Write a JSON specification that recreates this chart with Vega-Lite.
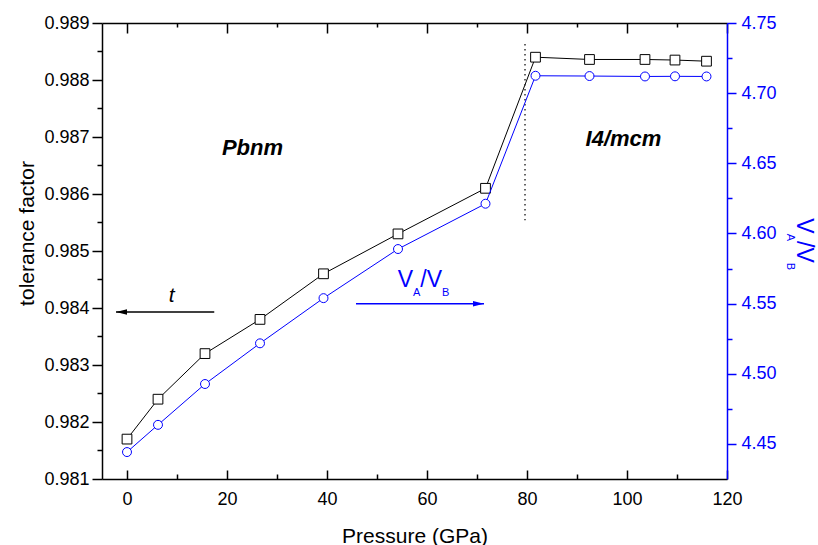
{
"$schema":"https://vega.github.io/schema/vega-lite/v6.json",
"width":625,"height":456,
"autosize":{"type":"none"},
"padding":{"left":102,"top":23,"right":91,"bottom":66},
"background":"white",
"config":{"font":"Liberation Sans","view":{"stroke":null},
 "axis":{"grid":false,"labelFontSize":18,"titleFontSize":21,"titleFontWeight":"normal","labelColor":"black","domainColor":"black","tickColor":"black","titleColor":"black","domainWidth":1.5,"tickWidth":1.5,"labelFlush":false,"labelOverlap":false,"labelBound":false}},
"datasets":{
 "tdata":[{"P":0,"t":0.9817},{"P":6.2,"t":0.9824},{"P":15.6,"t":0.9832},{"P":26.6,"t":0.9838},{"P":39.3,"t":0.9846},{"P":54.2,"t":0.9853},{"P":71.7,"t":0.9861},{"P":81.7,"t":0.9884},{"P":92.5,"t":0.98836},{"P":103.6,"t":0.98836},{"P":109.6,"t":0.98835},{"P":115.9,"t":0.98833}],
 "vdata":[{"P":0,"V":4.4442},{"P":6.2,"V":4.4636},{"P":15.6,"V":4.4927},{"P":26.6,"V":4.5217},{"P":39.3,"V":4.5539},{"P":54.2,"V":4.5889},{"P":71.7,"V":4.6212},{"P":81.7,"V":4.7124},{"P":92.5,"V":4.7122},{"P":103.6,"V":4.7119},{"P":109.6,"V":4.712},{"P":115.9,"V":4.7119}],
 "marks":[{"P":79.6,"t":0.98863,"t2":0.98554,"kind":"divider"},{"P":-2.2,"P2":17.45,"t":0.98393,"kind":"tarrow"},{"P":45.8,"P2":71.4,"t":0.984076,"kind":"varrow"}],
 "labels":[{"P":25.1,"t":0.98669,"label":"Pbnm","kind":"phase"},{"P":99.3,"t":0.98684,"label":"I4/mcm","kind":"phase"},{"P":8.93,"t":0.98411,"label":"t","kind":"tlab"},{"P":54.14,"t":0.984374,"label":"V","kind":"vmain"},{"P":58.66,"t":0.984374,"label":"/V","kind":"vmain"},{"P":57.2,"t":0.984211,"label":"A","kind":"vsub"},{"P":63.0,"t":0.984211,"label":"B","kind":"vsub"},{"P":133.9,"t":0.985573,"label":"V","kind":"rmain"},{"P":133.9,"t":0.985175,"label":"/V","kind":"rmain"},{"P":131.9,"t":0.985304,"label":"A","kind":"rsub"},{"P":131.9,"t":0.984795,"label":"B","kind":"rsub"}]
},
"layer":[
 {"encoding":{
   "x":{"field":"P","type":"quantitative","scale":{"domain":[-5,120],"nice":false,"zero":false},
     "axis":{"orient":"bottom","values":[0,20,40,60,80,100,120],"tickSize":-9,"labelPadding":20,"title":"Pressure (GPa)","titleY":63,"titleBaseline":"alphabetic"}},
   "y":{"field":"t","type":"quantitative","scale":{"domain":[0.981,0.989],"nice":false,"zero":false},
     "axis":{"orient":"left","values":[0.981,0.982,0.983,0.984,0.985,0.986,0.987,0.988,0.989],"format":".3f","tickSize":10,"labelPadding":3,"title":"tolerance factor","titleX":-69,"titleY":210,"titleAngle":270,"titleBaseline":"alphabetic","titleAlign":"center"}}},
  "layer":[
   {"data":{"name":"tdata"},"mark":{"type":"line","color":"black","strokeWidth":1}},
   {"data":{"name":"tdata"},"mark":{"type":"point","shape":"square","size":95,"filled":true,"fill":"white","stroke":"black","strokeWidth":1,"opacity":1}},
   {"data":{"name":"marks"},"transform":[{"filter":"datum.kind === 'divider'"}],"mark":{"type":"rule","color":"#333333","strokeWidth":1.5,"strokeDash":[1.5,3.5]},"encoding":{"y2":{"field":"t2"}}},
   {"data":{"name":"marks"},"transform":[{"filter":"datum.kind === 'tarrow'"}],"mark":{"type":"rule","color":"black","strokeWidth":1.5},"encoding":{"x2":{"field":"P2"}}},
   {"data":{"name":"marks"},"transform":[{"filter":"datum.kind === 'tarrow'"}],"mark":{"type":"point","shape":"M0,0L2,-0.5L2,0.5Z","size":121,"filled":true,"color":"black","opacity":1,"strokeWidth":0}},
   {"data":{"name":"marks"},"transform":[{"filter":"datum.kind === 'varrow'"}],"mark":{"type":"rule","color":"#0000FF","strokeWidth":1.5},"encoding":{"x2":{"field":"P2"}}},
   {"data":{"name":"marks"},"transform":[{"filter":"datum.kind === 'varrow'"}],"mark":{"type":"point","shape":"M0,0L-2,-0.5L-2,0.5Z","size":121,"filled":true,"color":"#0000FF","opacity":1,"strokeWidth":0},"encoding":{"x":{"field":"P2","type":"quantitative"}}},
   {"data":{"name":"labels"},"transform":[{"filter":"datum.kind === 'phase'"}],"mark":{"type":"text","fontSize":22,"fontWeight":"bold","fontStyle":"italic","align":"center","baseline":"alphabetic","color":"black"},"encoding":{"text":{"field":"label"}}},
   {"data":{"name":"labels"},"transform":[{"filter":"datum.kind === 'tlab'"}],"mark":{"type":"text","fontSize":21,"fontStyle":"italic","align":"center","baseline":"alphabetic","color":"black"},"encoding":{"text":{"field":"label"}}},
   {"data":{"name":"labels"},"transform":[{"filter":"datum.kind === 'vmain'"}],"mark":{"type":"text","fontSize":23,"align":"left","baseline":"alphabetic","color":"#0000FF"},"encoding":{"text":{"field":"label"}}},
   {"data":{"name":"labels"},"transform":[{"filter":"datum.kind === 'vsub'"}],"mark":{"type":"text","fontSize":11,"align":"left","baseline":"alphabetic","color":"#0000FF"},"encoding":{"text":{"field":"label"}}},
   {"data":{"name":"labels"},"transform":[{"filter":"datum.kind === 'rmain'"}],"mark":{"type":"text","fontSize":23,"angle":90,"align":"left","baseline":"alphabetic","color":"#0000FF"},"encoding":{"text":{"field":"label"}}},
   {"data":{"name":"labels"},"transform":[{"filter":"datum.kind === 'rsub'"}],"mark":{"type":"text","fontSize":11,"angle":90,"align":"left","baseline":"alphabetic","color":"#0000FF"},"encoding":{"text":{"field":"label"}}}
  ]},
 {"data":{"name":"vdata"},
  "encoding":{
   "x":{"field":"P","type":"quantitative","scale":{"domain":[-5,120],"nice":false,"zero":false},
     "axis":{"orient":"top","values":[0,20,40,60,80,100,120],"labels":false,"tickSize":-10,"title":null}},
   "y":{"field":"V","type":"quantitative","scale":{"domain":[4.425,4.75],"nice":false,"zero":false},
     "axis":{"orient":"right","values":[4.45,4.5,4.55,4.6,4.65,4.7,4.75],"format":".2f","tickSize":9,"labelPadding":5,"title":null,"labelColor":"#0000FF","tickColor":"#0000FF","domainColor":"#0000FF"}}},
  "layer":[
   {"mark":{"type":"line","color":"#0000FF","strokeWidth":1}},
   {"mark":{"type":"point","shape":"circle","size":80,"filled":true,"fill":"white","stroke":"#0000FF","strokeWidth":1,"opacity":1}}
  ]},
 {"data":{"name":"tdata"},"mark":{"type":"point","opacity":0},
  "encoding":{
   "x":{"field":"P","type":"quantitative","scale":{"domain":[-5,120],"nice":false,"zero":false},
     "axis":{"orient":"bottom","values":[10,30,50,70,90,110],"labels":false,"domain":false,"tickSize":-5,"title":null}},
   "y":{"field":"t","type":"quantitative","scale":{"domain":[0.981,0.989],"nice":false,"zero":false},
     "axis":{"orient":"left","values":[0.9815,0.9825,0.9835,0.9845,0.9855,0.9865,0.9875,0.9885],"labels":false,"domain":false,"tickSize":5,"title":null}}}},
 {"data":{"name":"vdata"},"mark":{"type":"point","opacity":0},
  "encoding":{
   "x":{"field":"P","type":"quantitative","scale":{"domain":[-5,120],"nice":false,"zero":false},
     "axis":{"orient":"top","values":[10,30,50,70,90,110],"labels":false,"domain":false,"tickSize":-4,"title":null}},
   "y":{"field":"V","type":"quantitative","scale":{"domain":[4.425,4.75],"nice":false,"zero":false},
     "axis":{"orient":"right","values":[4.475,4.525,4.575,4.625,4.675,4.725],"labels":false,"domain":false,"tickSize":5,"title":null,"tickColor":"#0000FF"}}}}
],
"resolve":{"scale":{"y":"independent"},"axis":{"x":"independent","y":"independent"}}
}
